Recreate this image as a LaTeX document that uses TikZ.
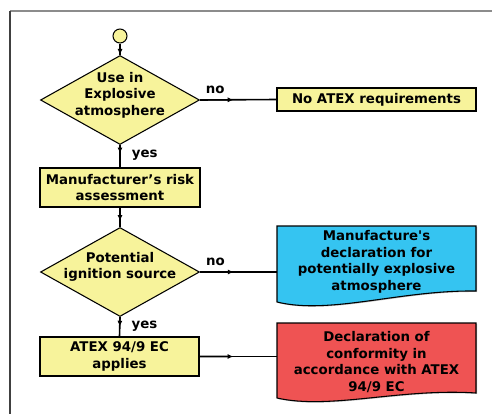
\documentclass[tikz,border=0pt]{standalone}
\usepackage{fontspec}
\setmainfont{DejaVu Sans}[Ligatures=TeXOff]
\usetikzlibrary{shapes.geometric,arrows.meta,calc,shadows}

\definecolor{boxyellow}{HTML}{F7F39B}
\definecolor{declblue}{HTML}{35C4F1}
\definecolor{declred}{HTML}{EF5353}
\definecolor{framegray}{HTML}{8C8C8C}

\begin{document}
\begin{tikzpicture}[x=0.75pt,y=-0.75pt,
  every node/.style={font=\bfseries\fontsize{10}{12.4}\selectfont, align=center},
  box/.style={draw, fill=boxyellow, line width=0.8pt, minimum width=120pt, minimum height=29.25pt, inner sep=0pt,
    drop shadow={shadow xshift=0.8pt, shadow yshift=-0.8pt, fill=black!45, opacity=0.6}},
  decision/.style={diamond, draw, fill=boxyellow, line width=0.8pt, minimum width=119.25pt, minimum height=66.75pt, inner sep=0pt},
  docbox/.style={minimum width=149.25pt, inner sep=0pt},
  flow/.style={line width=1.2pt},
  tip/.style={line width=1.2pt, -{Latex[length=4.5pt,width=3.8pt]}}]
\useasboundingbox (0,0) rectangle (492,414);
% frame
\draw[framegray, line width=1.5pt] (10,11) -- (492,11);
\draw[black!75, line width=1.2pt] (10,11) -- (10,414);

% decision column
\node[circle, draw, fill=boxyellow, line width=0.8pt, minimum size=10.5pt, inner sep=0pt] (start) at (120,36) {};
\node[decision] (use) at (120,100) {};
\node (usetxt) at (120,95) {Use in\\Explosive\\atmosphere};
\node[box] (risk) at (120,187.5) {Manufacturer’s risk\\assessment};
\node[decision] (ign) at (120,272) {};
\node (igntxt) at (120,267) {Potential\\ignition source};
\node[box, minimum width=119.25pt] (atex) at (119.5,356.5) {ATEX 94/9 EC\\applies};

% results
\node[box, minimum width=149.25pt, minimum height=17.25pt] (noatex) at (376.5,99.5) {No ATEX requirements};
\fill[black!45, opacity=0.6] (278,227) -- (477,227) -- (477,292)
  .. controls (401,291) and (331,316) .. (278,303) -- cycle;
\draw[fill=declblue, line width=0.8pt] (277,226) -- (476,226) -- (476,291)
  .. controls (400,290) and (330,315) .. (277,302) -- cycle;
\node[docbox] (manudecl) at (376.5,262) {Manufacture's\\declaration for\\potentially explosive\\atmosphere};
\fill[black!45, opacity=0.6] (278,324) -- (477,324) -- (477,394)
  .. controls (401,389) and (331,411) .. (278,399) -- cycle;
\draw[fill=declred, line width=0.8pt] (277,323) -- (476,323) -- (476,393)
  .. controls (400,388) and (330,410) .. (277,398) -- cycle;
\node[docbox] (confdecl) at (376.5,362) {Declaration of\\conformity in\\accordance with ATEX\\94/9 EC};

% connectors
\draw[flow] (start) -- (use);
\draw[tip] (start) -- (use.north);
\draw[flow] (use.east) -- (noatex.west) node[pos=0.2, above=1pt] {no};
\draw[tip] (use.east) -- ($(use.east)!0.44!(noatex.west)$);
\draw[flow] (use.south) -- (risk.north) node[pos=0.45, right=5pt] {yes};
\draw[tip] (use.south) -- ($(use.south)!0.38!(risk.north)$);
\draw[flow] (risk) -- (ign);
\draw[tip] (risk.south) -- ($(risk.south)!0.7!(ign.north)$);
\draw[flow] (ign.east) -- (ign.east -| manudecl.west) node[pos=0.2, above=1pt] {no};
\draw[tip] (ign.east) -- ($(ign.east)!0.44!(ign.east -| manudecl.west)$);
\draw[flow] (ign.south) -- (atex.north) node[pos=0.45, right=5pt] {yes};
\draw[tip] (ign.south) -- ($(ign.south)!0.5!(atex.north)$);
\draw[flow] (atex.east) -- (atex.east -| confdecl.west);
\draw[tip] (atex.east) -- ($(atex.east)!0.44!(atex.east -| confdecl.west)$);
\end{tikzpicture}
\end{document}
